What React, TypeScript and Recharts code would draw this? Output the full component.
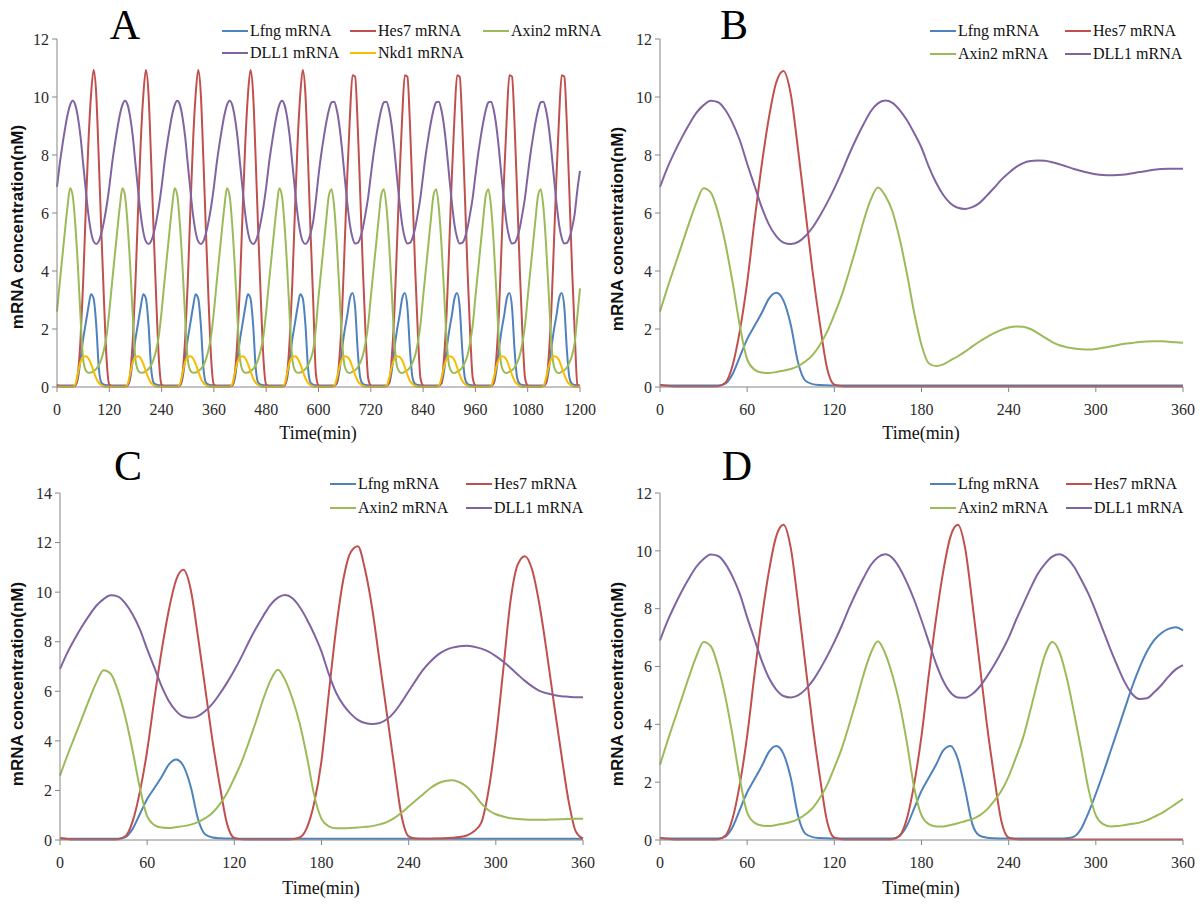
import React from 'react'
import { LineChart, Line, XAxis, YAxis } from 'recharts'

const SERIF = "'Liberation Serif', 'Times New Roman', Times, serif"
const SANS = "'Liberation Sans', Arial, Helvetica, sans-serif"

const C_LFNG = '#4F81BD'
const C_HES7 = '#C0504D'
const C_AXIN2 = '#9BBB59'
const C_DLL1 = '#8064A2'
const C_NKD1 = '#F5BD00'

// ---------- panel A: 0-1200 min, read every 6 min ----------
const TIME_A = [
  0, 6, 12, 18, 24, 30, 36, 42, 48, 54, 60, 66, 72, 78, 84, 90, 96, 102, 108, 114,
  120, 126, 132, 138, 144, 150, 156, 162, 168, 174, 180, 186, 192, 198, 204, 210, 216, 222, 228, 234,
  240, 246, 252, 258, 264, 270, 276, 282, 288, 294, 300, 306, 312, 318, 324, 330, 336, 342, 348, 354,
  360, 366, 372, 378, 384, 390, 396, 402, 408, 414, 420, 426, 432, 438, 444, 450, 456, 462, 468, 474,
  480, 486, 492, 498, 504, 510, 516, 522, 528, 534, 540, 546, 552, 558, 564, 570, 576, 582, 588, 594,
  600, 606, 612, 618, 624, 630, 636, 642, 648, 654, 660, 666, 672, 678, 684, 690, 696, 702, 708, 714,
  720, 726, 732, 738, 744, 750, 756, 762, 768, 774, 780, 786, 792, 798, 804, 810, 816, 822, 828, 834,
  840, 846, 852, 858, 864, 870, 876, 882, 888, 894, 900, 906, 912, 918, 924, 930, 936, 942, 948, 954,
  960, 966, 972, 978, 984, 990, 996, 1002, 1008, 1014, 1020, 1026, 1032, 1038, 1044, 1050, 1056, 1062, 1068, 1074,
  1080, 1086, 1092, 1098, 1104, 1110, 1116, 1122, 1128, 1134, 1140, 1146, 1152, 1158, 1164, 1170, 1176, 1182, 1188, 1194,
  1200,
]

const LFNG_A = [
  0.06, 0.05, 0.05, 0.05, 0.05, 0.05, 0.05, 0.06, 0.3, 0.95, 1.65, 2.2, 2.75, 3.2, 3.05, 2.15, 0.65, 0.14, 0.08, 0.06,
  0.06, 0.05, 0.05, 0.05, 0.05, 0.05, 0.05, 0.06, 0.3, 0.95, 1.65, 2.2, 2.75, 3.2, 3.05, 2.15, 0.65, 0.14, 0.08, 0.06,
  0.06, 0.05, 0.05, 0.05, 0.05, 0.05, 0.05, 0.06, 0.3, 0.95, 1.65, 2.2, 2.75, 3.2, 3.05, 2.15, 0.65, 0.14, 0.08, 0.06,
  0.06, 0.05, 0.05, 0.05, 0.05, 0.05, 0.05, 0.06, 0.3, 0.95, 1.65, 2.2, 2.75, 3.2, 3.05, 2.15, 0.65, 0.14, 0.08, 0.06,
  0.06, 0.05, 0.05, 0.05, 0.05, 0.05, 0.05, 0.06, 0.3, 0.95, 1.65, 2.2, 2.75, 3.2, 3.05, 2.15, 0.65, 0.14, 0.08, 0.06,
  0.05, 0.05, 0.05, 0.05, 0.05, 0.05, 0.05, 0.12, 0.55, 1.3, 1.95, 2.47, 3.05, 3.24, 2.75, 1.25, 0.3, 0.1, 0.07, 0.06,
  0.05, 0.05, 0.05, 0.05, 0.05, 0.05, 0.05, 0.12, 0.55, 1.3, 1.95, 2.47, 3.05, 3.24, 2.75, 1.25, 0.3, 0.1, 0.07, 0.06,
  0.05, 0.05, 0.05, 0.05, 0.05, 0.05, 0.05, 0.12, 0.55, 1.3, 1.95, 2.47, 3.05, 3.24, 2.75, 1.25, 0.3, 0.1, 0.07, 0.06,
  0.05, 0.05, 0.05, 0.05, 0.05, 0.05, 0.05, 0.12, 0.55, 1.3, 1.95, 2.47, 3.05, 3.24, 2.75, 1.25, 0.3, 0.1, 0.07, 0.06,
  0.05, 0.05, 0.05, 0.05, 0.05, 0.05, 0.05, 0.12, 0.55, 1.3, 1.95, 2.47, 3.05, 3.24, 2.75, 1.25, 0.3, 0.1, 0.07, 0.06,
  0.05,
]

const HES7_A = [
  0.08, 0.03, 0.02, 0.02, 0.02, 0.02, 0.02, 0.05, 0.45, 1.65, 3.6, 6.1, 8.4, 10.05, 10.93, 10.1, 7.8, 5.25, 2.9, 0.9,
  0.08, 0.03, 0.02, 0.02, 0.02, 0.02, 0.02, 0.05, 0.45, 1.65, 3.6, 6.1, 8.4, 10.05, 10.93, 10.1, 7.8, 5.25, 2.9, 0.9,
  0.08, 0.03, 0.02, 0.02, 0.02, 0.02, 0.02, 0.05, 0.45, 1.65, 3.6, 6.1, 8.4, 10.05, 10.93, 10.1, 7.8, 5.25, 2.9, 0.9,
  0.08, 0.03, 0.02, 0.02, 0.02, 0.02, 0.02, 0.05, 0.45, 1.65, 3.6, 6.1, 8.4, 10.05, 10.93, 10.1, 7.8, 5.25, 2.9, 0.9,
  0.08, 0.03, 0.02, 0.02, 0.02, 0.02, 0.02, 0.05, 0.45, 1.65, 3.6, 6.1, 8.4, 10.05, 10.93, 10.1, 7.8, 5.25, 2.9, 0.45,
  0.05, 0.02, 0.02, 0.02, 0.02, 0.02, 0.03, 0.15, 1.0, 2.55, 4.88, 7.27, 9.3, 10.75, 10.7, 9.0, 6.55, 4.0, 1.84, 0.3,
  0.05, 0.02, 0.02, 0.02, 0.02, 0.02, 0.03, 0.15, 1.0, 2.55, 4.88, 7.27, 9.3, 10.75, 10.7, 9.0, 6.55, 4.0, 1.84, 0.3,
  0.05, 0.02, 0.02, 0.02, 0.02, 0.02, 0.03, 0.15, 1.0, 2.55, 4.88, 7.27, 9.3, 10.75, 10.7, 9.0, 6.55, 4.0, 1.84, 0.3,
  0.05, 0.02, 0.02, 0.02, 0.02, 0.02, 0.03, 0.15, 1.0, 2.55, 4.88, 7.27, 9.3, 10.75, 10.7, 9.0, 6.55, 4.0, 1.84, 0.3,
  0.05, 0.02, 0.02, 0.02, 0.02, 0.02, 0.03, 0.15, 1.0, 2.55, 4.88, 7.27, 9.3, 10.75, 10.7, 9.0, 6.55, 4.0, 1.84, 0.08,
  0.03,
]

const AXIN2_A = [
  2.6, 3.55, 4.45, 5.35, 6.2, 6.85, 6.6, 5.6, 4.15, 2.4, 0.95, 0.57, 0.49, 0.5, 0.55, 0.62, 0.75, 0.97, 1.3, 1.8,
  2.6, 3.55, 4.45, 5.35, 6.2, 6.85, 6.6, 5.6, 4.15, 2.4, 0.95, 0.57, 0.49, 0.5, 0.55, 0.62, 0.75, 0.97, 1.3, 1.8,
  2.6, 3.55, 4.45, 5.35, 6.2, 6.85, 6.6, 5.6, 4.15, 2.4, 0.95, 0.57, 0.49, 0.5, 0.55, 0.62, 0.75, 0.97, 1.3, 1.8,
  2.6, 3.55, 4.45, 5.35, 6.2, 6.85, 6.6, 5.6, 4.15, 2.4, 0.95, 0.57, 0.49, 0.5, 0.55, 0.62, 0.75, 0.97, 1.3, 1.8,
  2.6, 3.55, 4.45, 5.35, 6.2, 6.85, 6.6, 5.6, 4.15, 2.4, 0.95, 0.57, 0.49, 0.5, 0.55, 0.62, 0.75, 0.97, 1.3, 2.05,
  3.1, 4.0, 4.9, 5.8, 6.62, 6.82, 6.2, 4.95, 3.3, 1.6, 0.72, 0.52, 0.48, 0.53, 0.58, 0.68, 0.85, 1.1, 1.54, 2.15,
  3.1, 4.0, 4.9, 5.8, 6.62, 6.82, 6.2, 4.95, 3.3, 1.6, 0.72, 0.52, 0.48, 0.53, 0.58, 0.68, 0.85, 1.1, 1.54, 2.15,
  3.1, 4.0, 4.9, 5.8, 6.62, 6.82, 6.2, 4.95, 3.3, 1.6, 0.72, 0.52, 0.48, 0.53, 0.58, 0.68, 0.85, 1.1, 1.54, 2.15,
  3.1, 4.0, 4.9, 5.8, 6.62, 6.82, 6.2, 4.95, 3.3, 1.6, 0.72, 0.52, 0.48, 0.53, 0.58, 0.68, 0.85, 1.1, 1.54, 2.15,
  3.1, 4.0, 4.9, 5.8, 6.62, 6.82, 6.2, 4.95, 3.3, 1.6, 0.72, 0.52, 0.48, 0.53, 0.58, 0.68, 0.85, 1.1, 1.54, 2.45,
  3.4,
]

const DLL1_A = [
  6.9, 7.66, 8.3, 8.87, 9.37, 9.72, 9.87, 9.73, 9.3, 8.63, 7.7, 6.8, 5.95, 5.35, 5.02, 4.93, 5.03, 5.31, 5.73, 6.25,
  6.9, 7.66, 8.3, 8.87, 9.37, 9.72, 9.87, 9.73, 9.3, 8.63, 7.7, 6.8, 5.95, 5.35, 5.02, 4.93, 5.03, 5.31, 5.73, 6.25,
  6.9, 7.66, 8.3, 8.87, 9.37, 9.72, 9.87, 9.73, 9.3, 8.63, 7.7, 6.8, 5.95, 5.35, 5.02, 4.93, 5.03, 5.31, 5.73, 6.25,
  6.9, 7.66, 8.3, 8.87, 9.37, 9.72, 9.87, 9.73, 9.3, 8.63, 7.7, 6.8, 5.95, 5.35, 5.02, 4.93, 5.03, 5.31, 5.73, 6.25,
  6.9, 7.66, 8.3, 8.87, 9.37, 9.72, 9.87, 9.73, 9.3, 8.63, 7.7, 6.8, 5.95, 5.35, 5.02, 4.93, 5.03, 5.31, 5.73, 6.45,
  7.29, 8.0, 8.6, 9.13, 9.56, 9.82, 9.84, 9.55, 9.0, 8.2, 7.25, 6.35, 5.6, 5.15, 4.95, 4.97, 5.15, 5.5, 5.99, 6.55,
  7.29, 8.0, 8.6, 9.13, 9.56, 9.82, 9.84, 9.55, 9.0, 8.2, 7.25, 6.35, 5.6, 5.15, 4.95, 4.97, 5.15, 5.5, 5.99, 6.55,
  7.29, 8.0, 8.6, 9.13, 9.56, 9.82, 9.84, 9.55, 9.0, 8.2, 7.25, 6.35, 5.6, 5.15, 4.95, 4.97, 5.15, 5.5, 5.99, 6.55,
  7.29, 8.0, 8.6, 9.13, 9.56, 9.82, 9.84, 9.55, 9.0, 8.2, 7.25, 6.35, 5.6, 5.15, 4.95, 4.97, 5.15, 5.5, 5.99, 6.55,
  7.29, 8.0, 8.6, 9.13, 9.56, 9.82, 9.84, 9.55, 9.0, 8.2, 7.25, 6.35, 5.6, 5.15, 4.95, 4.97, 5.15, 5.5, 5.99, 6.8,
  7.45,
]

const NKD1_A = [
  0.01, 0.01, 0.01, 0.01, 0.01, 0.01, 0.01, 0.1, 0.48, 0.87, 1.03, 1.06, 0.99, 0.8, 0.55, 0.3, 0.14, 0.06, 0.02, 0.01,
  0.01, 0.01, 0.01, 0.01, 0.01, 0.01, 0.01, 0.1, 0.48, 0.87, 1.03, 1.06, 0.99, 0.8, 0.55, 0.3, 0.14, 0.06, 0.02, 0.01,
  0.01, 0.01, 0.01, 0.01, 0.01, 0.01, 0.01, 0.1, 0.48, 0.87, 1.03, 1.06, 0.99, 0.8, 0.55, 0.3, 0.14, 0.06, 0.02, 0.01,
  0.01, 0.01, 0.01, 0.01, 0.01, 0.01, 0.01, 0.1, 0.48, 0.87, 1.03, 1.06, 0.99, 0.8, 0.55, 0.3, 0.14, 0.06, 0.02, 0.01,
  0.01, 0.01, 0.01, 0.01, 0.01, 0.01, 0.01, 0.1, 0.48, 0.87, 1.03, 1.06, 0.99, 0.8, 0.55, 0.3, 0.14, 0.06, 0.02, 0.01,
  0.01, 0.01, 0.01, 0.01, 0.01, 0.01, 0.03, 0.3, 0.7, 0.97, 1.06, 1.04, 0.92, 0.68, 0.42, 0.21, 0.1, 0.04, 0.01, 0.01,
  0.01, 0.01, 0.01, 0.01, 0.01, 0.01, 0.03, 0.3, 0.7, 0.97, 1.06, 1.04, 0.92, 0.68, 0.42, 0.21, 0.1, 0.04, 0.01, 0.01,
  0.01, 0.01, 0.01, 0.01, 0.01, 0.01, 0.03, 0.3, 0.7, 0.97, 1.06, 1.04, 0.92, 0.68, 0.42, 0.21, 0.1, 0.04, 0.01, 0.01,
  0.01, 0.01, 0.01, 0.01, 0.01, 0.01, 0.03, 0.3, 0.7, 0.97, 1.06, 1.04, 0.92, 0.68, 0.42, 0.21, 0.1, 0.04, 0.01, 0.01,
  0.01, 0.01, 0.01, 0.01, 0.01, 0.01, 0.03, 0.3, 0.7, 0.97, 1.06, 1.04, 0.92, 0.68, 0.42, 0.21, 0.1, 0.04, 0.01, 0.01,
  0.01,
]

// ---------- panels B, C, D: 0-360 min, read every 5 min ----------
const TIME_360 = [
  0, 5, 10, 15, 20, 25, 30, 35, 40, 45, 50, 55,
  60, 65, 70, 75, 80, 85, 90, 95, 100, 105, 110, 115,
  120, 125, 130, 135, 140, 145, 150, 155, 160, 165, 170, 175,
  180, 185, 190, 195, 200, 205, 210, 215, 220, 225, 230, 235,
  240, 245, 250, 255, 260, 265, 270, 275, 280, 285, 290, 295,
  300, 305, 310, 315, 320, 325, 330, 335, 340, 345, 350, 355,
  360,
]

// B
const LFNG_B = [
  0.06, 0.05, 0.05, 0.05, 0.05, 0.05, 0.05, 0.05, 0.05, 0.12, 0.45, 1.05,
  1.65, 2.1, 2.55, 3.05, 3.25, 2.98, 2.15, 0.85, 0.22, 0.1, 0.07, 0.06,
  0.05, 0.05, 0.05, 0.05, 0.05, 0.05, 0.05, 0.05, 0.05, 0.05, 0.05, 0.05,
  0.05, 0.05, 0.05, 0.05, 0.05, 0.05, 0.05, 0.05, 0.05, 0.05, 0.05, 0.05,
  0.05, 0.05, 0.05, 0.05, 0.05, 0.05, 0.05, 0.05, 0.05, 0.05, 0.05, 0.05,
  0.05, 0.05, 0.05, 0.05, 0.05, 0.05, 0.05, 0.05, 0.05, 0.05, 0.05, 0.05,
  0.05,
]
const HES7_B = [
  0.08, 0.04, 0.02, 0.02, 0.02, 0.02, 0.02, 0.02, 0.03, 0.15, 0.75, 1.95,
  3.6, 5.7, 7.65, 9.3, 10.5, 10.9, 10.1, 8.2, 6.1, 4.0, 2.2, 0.65,
  0.08, 0.03, 0.02, 0.02, 0.02, 0.02, 0.02, 0.02, 0.02, 0.02, 0.02, 0.02,
  0.02, 0.02, 0.02, 0.02, 0.02, 0.02, 0.02, 0.02, 0.02, 0.02, 0.02, 0.02,
  0.02, 0.02, 0.02, 0.02, 0.02, 0.02, 0.02, 0.02, 0.02, 0.02, 0.02, 0.02,
  0.02, 0.02, 0.02, 0.02, 0.02, 0.02, 0.02, 0.02, 0.02, 0.02, 0.02, 0.02,
  0.02,
]
const AXIN2_B = [
  2.6, 3.4, 4.15, 4.9, 5.65, 6.35, 6.85, 6.7, 6.0, 4.95, 3.6, 2.1,
  0.95, 0.6, 0.5, 0.48, 0.52, 0.56, 0.62, 0.72, 0.88, 1.1, 1.45, 1.9,
  2.5, 3.15, 3.95, 4.8, 5.7, 6.45, 6.88, 6.6, 6.05, 5.1, 3.9, 2.55,
  1.45, 0.82, 0.72, 0.78, 0.92, 1.06, 1.22, 1.4, 1.57, 1.72, 1.86, 1.97,
  2.05, 2.09, 2.08, 2.0, 1.86, 1.7, 1.55, 1.44, 1.37, 1.33, 1.3, 1.29,
  1.31, 1.35, 1.4, 1.45, 1.49, 1.52, 1.55, 1.57, 1.58, 1.58, 1.56, 1.54,
  1.53,
]
const DLL1_B = [
  6.9, 7.55, 8.1, 8.6, 9.05, 9.45, 9.72, 9.87, 9.82, 9.55, 9.1, 8.5,
  7.7, 6.95, 6.2, 5.6, 5.2, 4.98, 4.93, 5.0, 5.2, 5.5, 5.9, 6.35,
  6.85, 7.4, 8.0, 8.55, 9.05, 9.5, 9.78, 9.88, 9.8, 9.55, 9.2, 8.75,
  8.25, 7.6, 7.05, 6.62, 6.33, 6.18, 6.14, 6.2, 6.35, 6.6, 6.87, 7.15,
  7.38, 7.58, 7.72, 7.79, 7.81, 7.8, 7.75, 7.68, 7.6, 7.52, 7.45, 7.39,
  7.34, 7.31, 7.3, 7.31, 7.33, 7.37, 7.41, 7.45, 7.49, 7.52, 7.53, 7.53,
  7.53,
]

// C
const LFNG_C = [
  0.06, 0.05, 0.05, 0.05, 0.05, 0.05, 0.05, 0.05, 0.05, 0.12, 0.45, 1.05,
  1.65, 2.1, 2.55, 3.05, 3.25, 2.98, 2.15, 0.85, 0.22, 0.1, 0.07, 0.06,
  0.05, 0.05, 0.05, 0.05, 0.05, 0.05, 0.05, 0.05, 0.05, 0.05, 0.05, 0.05,
  0.05, 0.05, 0.05, 0.05, 0.05, 0.05, 0.05, 0.05, 0.05, 0.05, 0.05, 0.05,
  0.05, 0.05, 0.05, 0.05, 0.05, 0.05, 0.05, 0.05, 0.05, 0.05, 0.05, 0.05,
  0.05, 0.05, 0.05, 0.05, 0.05, 0.05, 0.05, 0.05, 0.05, 0.05, 0.05, 0.05,
  0.05,
]
const HES7_C = [
  0.08, 0.04, 0.02, 0.02, 0.02, 0.02, 0.02, 0.02, 0.03, 0.15, 0.75, 1.95,
  3.6, 5.7, 7.65, 9.3, 10.5, 10.9, 10.1, 8.2, 6.1, 4.0, 2.2, 0.65,
  0.08, 0.03, 0.02, 0.02, 0.02, 0.02, 0.02, 0.02, 0.03, 0.1, 0.5, 1.5,
  3.2, 5.9, 8.5, 10.5, 11.6, 11.85, 10.9, 9.3, 7.2, 5.1, 3.0, 1.0,
  0.15, 0.06, 0.05, 0.05, 0.06, 0.07, 0.09, 0.12, 0.18, 0.35, 0.7, 2.0,
  4.1, 6.8, 9.6, 11.1, 11.45, 10.9, 9.5, 7.6, 5.5, 3.5, 1.6, 0.35,
  0.05,
]
const AXIN2_C = [
  2.6, 3.4, 4.15, 4.9, 5.65, 6.35, 6.85, 6.7, 6.0, 4.95, 3.6, 2.1,
  0.95, 0.6, 0.5, 0.48, 0.52, 0.56, 0.62, 0.72, 0.88, 1.1, 1.45, 1.9,
  2.5, 3.15, 3.95, 4.8, 5.7, 6.45, 6.87, 6.45, 5.7, 4.7, 3.35, 1.8,
  0.85, 0.55, 0.47, 0.47, 0.48, 0.5, 0.53, 0.56, 0.63, 0.72, 0.88, 1.1,
  1.35, 1.6, 1.85, 2.1, 2.28, 2.38, 2.41, 2.33, 2.15, 1.85, 1.48, 1.2,
  1.04, 0.95, 0.88, 0.85, 0.83, 0.82, 0.82, 0.82, 0.83, 0.84, 0.85, 0.86,
  0.86,
]
const DLL1_C = [
  6.9, 7.55, 8.1, 8.6, 9.05, 9.45, 9.72, 9.87, 9.82, 9.55, 9.1, 8.5,
  7.7, 6.95, 6.2, 5.6, 5.2, 4.98, 4.93, 5.0, 5.2, 5.5, 5.9, 6.35,
  6.85, 7.4, 8.0, 8.55, 9.05, 9.5, 9.78, 9.88, 9.75, 9.4, 8.9, 8.3,
  7.6, 6.7, 5.95, 5.45, 5.1, 4.85, 4.72, 4.68, 4.72, 4.87, 5.15, 5.55,
  6.0, 6.45, 6.87, 7.2, 7.47, 7.65, 7.76, 7.82, 7.84, 7.8, 7.72, 7.6,
  7.42, 7.2, 6.95, 6.68, 6.42, 6.2, 6.02, 5.92, 5.85, 5.8, 5.78, 5.76,
  5.76,
]

// D
const LFNG_D = [
  0.06, 0.05, 0.05, 0.05, 0.05, 0.05, 0.05, 0.05, 0.05, 0.12, 0.45, 1.05,
  1.65, 2.1, 2.55, 3.05, 3.25, 2.98, 2.15, 0.85, 0.22, 0.1, 0.07, 0.06,
  0.05, 0.05, 0.05, 0.05, 0.05, 0.05, 0.05, 0.05, 0.05, 0.15, 0.5, 1.1,
  1.7, 2.15, 2.6, 3.1, 3.25, 2.8, 1.75, 0.55, 0.15, 0.08, 0.06, 0.05,
  0.05, 0.05, 0.05, 0.05, 0.05, 0.05, 0.05, 0.05, 0.06, 0.12, 0.4, 0.95,
  1.6, 2.3, 3.05, 3.8, 4.55, 5.3, 5.95, 6.5, 6.9, 7.15, 7.3, 7.36,
  7.25,
]
const HES7_D = [
  0.08, 0.04, 0.02, 0.02, 0.02, 0.02, 0.02, 0.02, 0.03, 0.15, 0.75, 1.95,
  3.6, 5.7, 7.65, 9.3, 10.5, 10.9, 10.1, 8.2, 6.1, 4.0, 2.2, 0.65,
  0.08, 0.03, 0.02, 0.02, 0.02, 0.02, 0.02, 0.02, 0.03, 0.15, 0.75, 1.95,
  3.6, 5.7, 7.65, 9.3, 10.5, 10.9, 10.1, 8.2, 6.1, 4.0, 2.2, 0.65,
  0.08, 0.03, 0.02, 0.02, 0.02, 0.02, 0.02, 0.02, 0.02, 0.02, 0.02, 0.02,
  0.02, 0.02, 0.02, 0.02, 0.02, 0.02, 0.02, 0.02, 0.02, 0.02, 0.02, 0.02,
  0.02,
]
const AXIN2_D = [
  2.6, 3.4, 4.15, 4.9, 5.65, 6.35, 6.85, 6.7, 6.0, 4.95, 3.6, 2.1,
  0.95, 0.6, 0.5, 0.48, 0.52, 0.56, 0.62, 0.72, 0.88, 1.1, 1.45, 1.9,
  2.5, 3.15, 3.95, 4.8, 5.7, 6.45, 6.87, 6.45, 5.7, 4.7, 3.35, 1.8,
  0.85, 0.55, 0.47, 0.47, 0.52, 0.58, 0.65, 0.72, 0.85, 1.05, 1.35, 1.7,
  2.2, 2.85, 3.55, 4.5, 5.5, 6.4, 6.85, 6.5, 5.6, 4.4, 3.1, 1.75,
  0.85, 0.55, 0.47, 0.48, 0.52, 0.56, 0.6, 0.68, 0.8, 0.92, 1.08, 1.25,
  1.42,
]
const DLL1_D = [
  6.9, 7.55, 8.1, 8.6, 9.05, 9.45, 9.72, 9.87, 9.82, 9.55, 9.1, 8.5,
  7.7, 6.95, 6.2, 5.6, 5.2, 4.98, 4.93, 5.0, 5.2, 5.5, 5.9, 6.35,
  6.85, 7.4, 8.0, 8.55, 9.05, 9.5, 9.78, 9.88, 9.75, 9.4, 8.9, 8.3,
  7.6, 6.85, 6.1, 5.5, 5.1, 4.93, 4.92, 5.05, 5.3, 5.65, 6.05, 6.5,
  7.0, 7.6, 8.15, 8.7, 9.2, 9.55, 9.8, 9.88, 9.75, 9.45, 9.0, 8.5,
  7.9, 7.25, 6.6, 6.0, 5.45, 5.05, 4.88, 4.9, 5.1, 5.35, 5.65, 5.9,
  6.05,
]

const TICKS_1200 = [0, 120, 240, 360, 480, 600, 720, 840, 960, 1080, 1200]
const TICKS_360 = [0, 60, 120, 180, 240, 300, 360]
const TICKS_12 = [0, 2, 4, 6, 8, 10, 12]
const TICKS_14 = [0, 2, 4, 6, 8, 10, 12, 14]

type Series = { key: string; name: string; color: string; values: number[] }

const AXIS_COLOR = '#868686'
const TICK_STYLE = { fill: '#2b2b2b', fontSize: 16, fontFamily: SERIF }

function Panel(props: {
  x: number
  y: number
  w: number
  h: number
  margin: { top: number; right: number; bottom: number; left: number }
  time: number[]
  series: Series[]
  xMax: number
  xTicks: number[]
  yMax: number
  yTicks: number[]
}) {
  const { x, y, w, h, margin, time, series, xMax, xTicks, yMax, yTicks } = props
  const rows = time.map((t, i) => {
    const row: Record<string, number> = { t }
    series.forEach((s) => {
      row[s.key] = s.values[i]
    })
    return row
  })
  return (
    <div style={{ position: 'absolute', left: x, top: y }}>
      <LineChart width={w} height={h} data={rows} margin={margin}>
        <XAxis
          dataKey="t"
          type="number"
          domain={[0, xMax]}
          ticks={xTicks}
          interval={0}
          stroke={AXIS_COLOR}
          tickSize={5}
          tickMargin={12}
          tick={TICK_STYLE}
        />
        <YAxis
          type="number"
          domain={[0, yMax]}
          ticks={yTicks}
          interval={0}
          width={40}
          stroke={AXIS_COLOR}
          tickSize={5}
          tickMargin={3}
          tick={TICK_STYLE}
        />
        {series.map((s) => (
          <Line
            key={s.key}
            dataKey={s.key}
            name={s.name}
            type="monotone"
            stroke={s.color}
            strokeWidth={2}
            dot={false}
            activeDot={false}
            isAnimationActive={false}
          />
        ))}
      </LineChart>
    </div>
  )
}

function LegendItem({ x, y, color, label }: { x: number; y: number; color: string; label: string }) {
  return (
    <g>
      <line x1={x} y1={y} x2={x + 26} y2={y} stroke={color} strokeWidth={2} />
      <text x={x + 28} y={y + 5} fontSize={16} fontFamily={SERIF} fill="#111">
        {label}
      </text>
    </g>
  )
}

function PanelText({
  letter,
  letterX,
  letterY,
  yLabelX,
  yLabelY,
  xLabelX,
  xLabelY,
}: {
  letter: string
  letterX: number
  letterY: number
  yLabelX: number
  yLabelY: number
  xLabelX: number
  xLabelY: number
}) {
  return (
    <g>
      <text x={letterX} y={letterY} textAnchor="middle" fontSize={42} fontFamily={SERIF} fill="#000">
        {letter}
      </text>
      <text
        x={yLabelX}
        y={yLabelY}
        textAnchor="middle"
        dominantBaseline="central"
        transform={`rotate(-90, ${yLabelX}, ${yLabelY})`}
        fontSize={17}
        fontWeight="bold"
        fontFamily={SANS}
        fill="#111"
      >
        mRNA concentration(nM)
      </text>
      <text
        x={xLabelX}
        y={xLabelY}
        textAnchor="middle"
        dominantBaseline="central"
        fontSize={18}
        fontFamily={SERIF}
        fill="#111"
      >
        Time(min)
      </text>
    </g>
  )
}

export default function App() {
  const seriesA: Series[] = [
    { key: 'lfng', name: 'Lfng mRNA', color: C_LFNG, values: LFNG_A },
    { key: 'hes7', name: 'Hes7 mRNA', color: C_HES7, values: HES7_A },
    { key: 'axin2', name: 'Axin2 mRNA', color: C_AXIN2, values: AXIN2_A },
    { key: 'dll1', name: 'DLL1 mRNA', color: C_DLL1, values: DLL1_A },
    { key: 'nkd1', name: 'Nkd1 mRNA', color: C_NKD1, values: NKD1_A },
  ]
  const seriesB: Series[] = [
    { key: 'lfng', name: 'Lfng mRNA', color: C_LFNG, values: LFNG_B },
    { key: 'hes7', name: 'Hes7 mRNA', color: C_HES7, values: HES7_B },
    { key: 'axin2', name: 'Axin2 mRNA', color: C_AXIN2, values: AXIN2_B },
    { key: 'dll1', name: 'DLL1 mRNA', color: C_DLL1, values: DLL1_B },
  ]
  const seriesC: Series[] = [
    { key: 'lfng', name: 'Lfng mRNA', color: C_LFNG, values: LFNG_C },
    { key: 'hes7', name: 'Hes7 mRNA', color: C_HES7, values: HES7_C },
    { key: 'axin2', name: 'Axin2 mRNA', color: C_AXIN2, values: AXIN2_C },
    { key: 'dll1', name: 'DLL1 mRNA', color: C_DLL1, values: DLL1_C },
  ]
  const seriesD: Series[] = [
    { key: 'lfng', name: 'Lfng mRNA', color: C_LFNG, values: LFNG_D },
    { key: 'hes7', name: 'Hes7 mRNA', color: C_HES7, values: HES7_D },
    { key: 'axin2', name: 'Axin2 mRNA', color: C_AXIN2, values: AXIN2_D },
    { key: 'dll1', name: 'DLL1 mRNA', color: C_DLL1, values: DLL1_D },
  ]

  return (
    <div
      style={{
        position: 'absolute',
        left: 0,
        top: 0,
        width: 1200,
        height: 904,
        background: '#fff',
        overflow: 'hidden',
      }}
    >
      <Panel
        x={0}
        y={0}
        w={600}
        h={450}
        margin={{ top: 39, right: 20, bottom: 33, left: 17 }}
        time={TIME_A}
        series={seriesA}
        xMax={1200}
        xTicks={TICKS_1200}
        yMax={12}
        yTicks={TICKS_12}
      />
      <Panel
        x={600}
        y={0}
        w={600}
        h={450}
        margin={{ top: 39, right: 17, bottom: 33, left: 20 }}
        time={TIME_360}
        series={seriesB}
        xMax={360}
        xTicks={TICKS_360}
        yMax={12}
        yTicks={TICKS_12}
      />
      <Panel
        x={0}
        y={450}
        w={600}
        h={454}
        margin={{ top: 43, right: 17, bottom: 34, left: 20 }}
        time={TIME_360}
        series={seriesC}
        xMax={360}
        xTicks={TICKS_360}
        yMax={14}
        yTicks={TICKS_14}
      />
      <Panel
        x={600}
        y={450}
        w={600}
        h={454}
        margin={{ top: 43, right: 17, bottom: 34, left: 20 }}
        time={TIME_360}
        series={seriesD}
        xMax={360}
        xTicks={TICKS_360}
        yMax={12}
        yTicks={TICKS_12}
      />

      <svg
        width={1200}
        height={904}
        style={{ position: 'absolute', left: 0, top: 0, pointerEvents: 'none' }}
      >
        <PanelText letter="A" letterX={125} letterY={39} yLabelX={17} yLabelY={227} xLabelX={318} xLabelY={433} />
        <PanelText letter="B" letterX={734} letterY={39} yLabelX={617} yLabelY={229} xLabelX={921} xLabelY={433} />
        <PanelText letter="C" letterX={128} letterY={480} yLabelX={17} yLabelY={684} xLabelX={321} xLabelY={888} />
        <PanelText letter="D" letterX={737} letterY={480} yLabelX={617} yLabelY={684} xLabelX={921} xLabelY={888} />

        <LegendItem x={222} y={31} color={C_LFNG} label="Lfng mRNA" />
        <LegendItem x={350} y={31} color={C_HES7} label="Hes7 mRNA" />
        <LegendItem x={483} y={31} color={C_AXIN2} label="Axin2 mRNA" />
        <LegendItem x={222} y={53} color={C_DLL1} label="DLL1 mRNA" />
        <LegendItem x={350} y={53} color={C_NKD1} label="Nkd1 mRNA" />

        <LegendItem x={930} y={31} color={C_LFNG} label="Lfng mRNA" />
        <LegendItem x={1065} y={31} color={C_HES7} label="Hes7 mRNA" />
        <LegendItem x={930} y={54} color={C_AXIN2} label="Axin2 mRNA" />
        <LegendItem x={1065} y={54} color={C_DLL1} label="DLL1 mRNA" />

        <LegendItem x={330} y={484} color={C_LFNG} label="Lfng mRNA" />
        <LegendItem x={466} y={484} color={C_HES7} label="Hes7 mRNA" />
        <LegendItem x={330} y={508} color={C_AXIN2} label="Axin2 mRNA" />
        <LegendItem x={466} y={508} color={C_DLL1} label="DLL1 mRNA" />

        <LegendItem x={930} y={484} color={C_LFNG} label="Lfng mRNA" />
        <LegendItem x={1066} y={484} color={C_HES7} label="Hes7 mRNA" />
        <LegendItem x={930} y={508} color={C_AXIN2} label="Axin2 mRNA" />
        <LegendItem x={1066} y={508} color={C_DLL1} label="DLL1 mRNA" />
      </svg>
    </div>
  )
}
